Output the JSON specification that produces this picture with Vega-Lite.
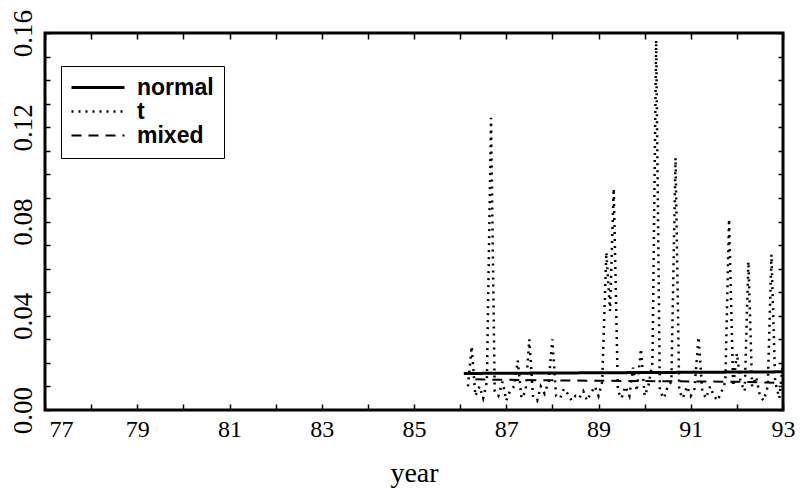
{
  "$schema": "https://vega.github.io/schema/vega-lite/v6.json",
  "width": 738,
  "height": 377,
  "autosize": {"type": "none"},
  "padding": {"left": 45, "top": 33, "right": 21, "bottom": 81},
  "background": "white",
  "config": {
    "view": {"stroke": "black", "strokeWidth": 3},
    "axis": {"grid": false, "domain": false, "tickColor": "black", "tickWidth": 1.5, "labelColor": "black", "titleColor": "black", "labelFont": "Liberation Serif", "titleFont": "Liberation Serif", "titleFontWeight": "normal", "labelOverlap": false, "labelFlush": false},
    "legend": {"orient": "none", "legendX": 16, "legendY": 33, "padding": 10, "strokeColor": "black", "fillColor": "white", "symbolType": "M-2.65,0H2.65", "symbolSize": 400, "symbolOffset": 15.5, "symbolStrokeColor": "black", "labelFont": "Liberation Sans", "labelFontSize": 23, "labelFontWeight": "bold", "labelColor": "black", "labelOffset": 27.5, "rowPadding": -2}
  },
  "data": {"values": [
    {"series": "normal", "year": 86.08, "value": 0.0155},
    {"series": "normal", "year": 87, "value": 0.0156},
    {"series": "normal", "year": 88, "value": 0.0157},
    {"series": "normal", "year": 89, "value": 0.0158},
    {"series": "normal", "year": 90, "value": 0.0159},
    {"series": "normal", "year": 91, "value": 0.016},
    {"series": "normal", "year": 92, "value": 0.0161},
    {"series": "normal", "year": 93, "value": 0.0162},
    {"series": "mixed", "year": 86.33, "value": 0.013},
    {"series": "mixed", "year": 87, "value": 0.0128},
    {"series": "mixed", "year": 88, "value": 0.0126},
    {"series": "mixed", "year": 89, "value": 0.0124},
    {"series": "mixed", "year": 90, "value": 0.0123},
    {"series": "mixed", "year": 91, "value": 0.0121},
    {"series": "mixed", "year": 92, "value": 0.012},
    {"series": "mixed", "year": 93, "value": 0.0115},
    {"series": "t", "year": 86.17, "value": 0.010},
    {"series": "t", "year": 86.25, "value": 0.027},
    {"series": "t", "year": 86.33, "value": 0.006},
    {"series": "t", "year": 86.42, "value": 0.010},
    {"series": "t", "year": 86.5, "value": 0.005},
    {"series": "t", "year": 86.58, "value": 0.012},
    {"series": "t", "year": 86.67, "value": 0.124},
    {"series": "t", "year": 86.75, "value": 0.008},
    {"series": "t", "year": 86.83, "value": 0.006},
    {"series": "t", "year": 86.92, "value": 0.012},
    {"series": "t", "year": 87.0, "value": 0.004},
    {"series": "t", "year": 87.08, "value": 0.008},
    {"series": "t", "year": 87.17, "value": 0.010},
    {"series": "t", "year": 87.25, "value": 0.021},
    {"series": "t", "year": 87.33, "value": 0.005},
    {"series": "t", "year": 87.42, "value": 0.008},
    {"series": "t", "year": 87.5, "value": 0.030},
    {"series": "t", "year": 87.58, "value": 0.006},
    {"series": "t", "year": 87.67, "value": 0.004},
    {"series": "t", "year": 87.75, "value": 0.010},
    {"series": "t", "year": 87.83, "value": 0.007},
    {"series": "t", "year": 87.92, "value": 0.012},
    {"series": "t", "year": 88.0, "value": 0.030},
    {"series": "t", "year": 88.08, "value": 0.006},
    {"series": "t", "year": 88.17, "value": 0.005},
    {"series": "t", "year": 88.25, "value": 0.009},
    {"series": "t", "year": 88.33, "value": 0.007},
    {"series": "t", "year": 88.42, "value": 0.004},
    {"series": "t", "year": 88.5, "value": 0.006},
    {"series": "t", "year": 88.58, "value": 0.005},
    {"series": "t", "year": 88.67, "value": 0.008},
    {"series": "t", "year": 88.75, "value": 0.004},
    {"series": "t", "year": 88.83, "value": 0.007},
    {"series": "t", "year": 88.92, "value": 0.010},
    {"series": "t", "year": 89.0, "value": 0.006},
    {"series": "t", "year": 89.08, "value": 0.012},
    {"series": "t", "year": 89.17, "value": 0.067},
    {"series": "t", "year": 89.25, "value": 0.042},
    {"series": "t", "year": 89.33, "value": 0.094},
    {"series": "t", "year": 89.42, "value": 0.008},
    {"series": "t", "year": 89.5, "value": 0.005},
    {"series": "t", "year": 89.58, "value": 0.010},
    {"series": "t", "year": 89.67, "value": 0.006},
    {"series": "t", "year": 89.75, "value": 0.018},
    {"series": "t", "year": 89.83, "value": 0.008},
    {"series": "t", "year": 89.92, "value": 0.026},
    {"series": "t", "year": 90.0, "value": 0.006},
    {"series": "t", "year": 90.08, "value": 0.010},
    {"series": "t", "year": 90.17, "value": 0.020},
    {"series": "t", "year": 90.25, "value": 0.157},
    {"series": "t", "year": 90.33, "value": 0.008},
    {"series": "t", "year": 90.42, "value": 0.005},
    {"series": "t", "year": 90.5, "value": 0.010},
    {"series": "t", "year": 90.58, "value": 0.012},
    {"series": "t", "year": 90.67, "value": 0.107},
    {"series": "t", "year": 90.75, "value": 0.008},
    {"series": "t", "year": 90.83, "value": 0.005},
    {"series": "t", "year": 90.92, "value": 0.010},
    {"series": "t", "year": 91.0, "value": 0.006},
    {"series": "t", "year": 91.08, "value": 0.009},
    {"series": "t", "year": 91.17, "value": 0.031},
    {"series": "t", "year": 91.25, "value": 0.008},
    {"series": "t", "year": 91.33, "value": 0.005},
    {"series": "t", "year": 91.42, "value": 0.010},
    {"series": "t", "year": 91.5, "value": 0.006},
    {"series": "t", "year": 91.58, "value": 0.004},
    {"series": "t", "year": 91.67, "value": 0.008},
    {"series": "t", "year": 91.75, "value": 0.012},
    {"series": "t", "year": 91.83, "value": 0.081},
    {"series": "t", "year": 91.92, "value": 0.010},
    {"series": "t", "year": 92.0, "value": 0.024},
    {"series": "t", "year": 92.08, "value": 0.012},
    {"series": "t", "year": 92.17, "value": 0.008},
    {"series": "t", "year": 92.25, "value": 0.063},
    {"series": "t", "year": 92.33, "value": 0.010},
    {"series": "t", "year": 92.42, "value": 0.014},
    {"series": "t", "year": 92.5, "value": 0.006},
    {"series": "t", "year": 92.58, "value": 0.004},
    {"series": "t", "year": 92.67, "value": 0.010},
    {"series": "t", "year": 92.75, "value": 0.066},
    {"series": "t", "year": 92.83, "value": 0.012},
    {"series": "t", "year": 92.92, "value": 0.005},
    {"series": "t", "year": 93.0, "value": 0.020}
  ]},
  "layer": [
    {
      "mark": {"type": "line", "clip": true},
      "encoding": {
        "x": {"field": "year", "type": "quantitative", "scale": {"domain": [77, 93], "nice": false, "zero": false},
          "axis": {"orient": "bottom", "values": [77,78,79,80,81,82,83,84,85,86,87,88,89,90,91,92,93], "labelExpr": "datum.value % 2 == 1 ? datum.label : ''", "labelOffset": {"condition": {"test": "datum.value == 77", "value": 16}, "value": 0}, "tickSize": -6, "labelFontSize": 24, "labelPadding": 13, "title": "year", "titleFontSize": 28, "titleBaseline": "alphabetic", "titleY": 71}},
        "y": {"field": "value", "type": "quantitative", "scale": {"domain": [0, 0.16], "nice": false},
          "axis": {"orient": "left", "values": [0,0.01,0.02,0.03,0.04,0.05,0.06,0.07,0.08,0.09,0.1,0.11,0.12,0.13,0.14,0.15,0.16], "format": ".2f", "labelExpr": "round(datum.value*100) % 4 == 0 ? datum.label : ''", "tickSize": -5, "labelFontSize": 27, "labelAngle": -90, "labelAlign": "center", "labelBaseline": "alphabetic", "labelPadding": 19, "title": null}},
        "color": {"field": "series", "type": "nominal", "scale": {"domain": ["normal", "t", "mixed"], "range": ["black", "black", "black"]}, "legend": {"title": null}},
        "strokeDash": {"field": "series", "type": "nominal", "scale": {"domain": ["normal", "t", "mixed"], "range": [[1, 0], [2, 5], [10, 7]]}, "legend": {"title": null}},
        "strokeWidth": {"field": "series", "type": "nominal", "scale": {"domain": ["normal", "t", "mixed"], "range": [3, 2, 3.5]}, "legend": {"title": null}}
      }
    },
    {
      "mark": {"type": "point", "opacity": 0},
      "encoding": {
        "x": {"field": "year", "type": "quantitative", "scale": {"domain": [77, 93], "nice": false, "zero": false},
          "axis": {"orient": "top", "values": [77,78,79,80,81,82,83,84,85,86,87,88,89,90,91,92,93], "labels": false, "tickSize": -6, "title": null}},
        "y": {"field": "value", "type": "quantitative", "scale": {"domain": [0, 0.16], "nice": false},
          "axis": {"orient": "right", "values": [0,0.01,0.02,0.03,0.04,0.05,0.06,0.07,0.08,0.09,0.1,0.11,0.12,0.13,0.14,0.15,0.16], "labels": false, "tickSize": -5, "title": null}}
      }
    }
  ],
  "resolve": {"axis": {"x": "independent", "y": "independent"}}
}
